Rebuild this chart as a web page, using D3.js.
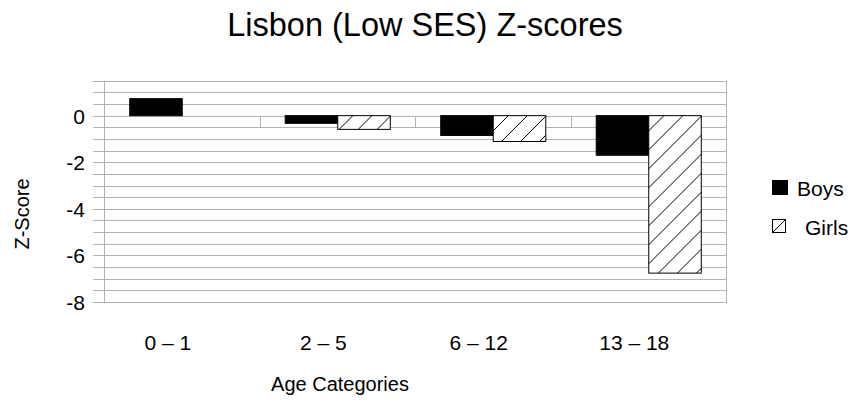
<!DOCTYPE html>
<html>
<head>
<meta charset="UTF-8">
<title>Lisbon (Low SES) Z-scores</title>
<style>
  body{ margin:0; background:#fff; }
  #canvas{ width:862px; height:406px; }
  text{ font-family:"Liberation Sans", Arial, sans-serif; fill:#000; }
  .grid line{ stroke:#b3b3b3; stroke-width:1; shape-rendering:crispEdges; }
</style>
<script src="https://cdn.jsdelivr.net/npm/d3@7/dist/d3.min.js"></script>
</head>
<body>
<div id="canvas"></div>
<script>
// data
var categories = ["0 – 1", "2 – 5", "6 – 12", "13 – 18"];
var seriesNames = ["Boys", "Girls"];
var boys = [0.73, -0.33, -0.85, -1.70];
var girls = [null, -0.59, -1.11, -6.76];
var yLabelTicks = [0, -2, -4, -6, -8];

// layout
var W = 862, H = 406;
var plot = {left: 104, right: 726, top: 80.7, bottom: 302};

var svg = d3.select("#canvas").append("svg")
  .attr("width", W).attr("height", H);

// pattern for girls
var defs = svg.append("defs");
var pat = defs.append("pattern")
  .attr("id", "hatch")
  .attr("patternUnits", "userSpaceOnUse")
  .attr("width", 19).attr("height", 19);
pat.append("rect").attr("width", 19).attr("height", 19).attr("fill", "#fff");
pat.append("path")
  .attr("d", "M-2,21 L21,-2 M-2,2 L2,-2 M17,21 L21,17")
  .attr("stroke", "#000").attr("stroke-width", 1);

// scales
var x0 = d3.scaleBand().domain(categories).range([plot.left, plot.right]).padding(0);
var x1 = d3.scaleBand().domain(seriesNames).range([0, x0.bandwidth()])
  .paddingInner(0).paddingOuter(0.48);
var y = d3.scaleLinear().domain([-8, 1.5]).range([plot.bottom, plot.top]);

// gridlines every 0.5 (extend left as tick marks)
var minor = d3.range(-8, 1.5001, 0.5);
svg.append("g").attr("class", "grid")
  .selectAll("line").data(minor).enter().append("line")
  .attr("x1", plot.left - 11).attr("x2", plot.right)
  .attr("y1", function(d){ return Math.round(y(d)) + 0.5; })
  .attr("y2", function(d){ return Math.round(y(d)) + 0.5; });

// y axis line and right wall
var g = svg.append("g").attr("class", "grid");
g.append("line")
  .attr("x1", plot.left + 0.5).attr("x2", plot.left + 0.5)
  .attr("y1", Math.round(y(1.5))).attr("y2", Math.round(y(-8)) + 1);
g.append("line")
  .attr("x1", plot.right + 0.5).attr("x2", plot.right + 0.5)
  .attr("y1", Math.round(y(1.5))).attr("y2", Math.round(y(-8)) + 1);

// category ticks on zero line
var bounds = categories.slice(1).map(function(c){ return x0(c); });
g.selectAll(".ctick").data(bounds).enter().append("line")
  .attr("x1", function(d){ return Math.round(d) + 0.5; })
  .attr("x2", function(d){ return Math.round(d) + 0.5; })
  .attr("y1", Math.round(y(0))).attr("y2", Math.round(y(0)) + 12);

// y tick labels
svg.append("g").selectAll("text").data(yLabelTicks).enter().append("text")
  .attr("x", 85).attr("y", function(d){ return y(d) + 8; })
  .attr("text-anchor", "end")
  .style("font-size", "21px")
  .text(function(d){ return d; });

// bars
var rows = categories.map(function(c, i){
  return {cat: c, values: [{s: "Boys", v: boys[i]}, {s: "Girls", v: girls[i]}]};
});
var grp = svg.append("g").selectAll("g").data(rows).enter().append("g")
  .attr("transform", function(d){ return "translate(" + x0(d.cat) + ",0)"; });
grp.selectAll("rect")
  .data(function(d){ return d.values.filter(function(e){ return e.v !== null; }); })
  .enter().append("rect")
  .attr("x", function(d){ return x1(d.s) + 0.5; })
  .attr("width", x1.bandwidth())
  .attr("y", function(d){ return Math.min(y(d.v), y(0)); })
  .attr("height", function(d){ return Math.abs(y(d.v) - y(0)); })
  .attr("fill", function(d){ return d.s === "Boys" ? "#000" : "url(#hatch)"; })
  .attr("stroke", "#000").attr("stroke-width", 1);

// x tick labels
svg.append("g").selectAll("text").data(categories).enter().append("text")
  .attr("x", function(d){ return x0(d) + x0.bandwidth() / 2 - 14; })
  .attr("y", 350)
  .attr("text-anchor", "middle")
  .style("font-size", "21px")
  .text(function(d){ return d; });

// titles
svg.append("text").attr("x", 425).attr("y", 36)
  .attr("text-anchor", "middle").style("font-size", "32.5px")
  .text("Lisbon (Low SES) Z-scores");
svg.append("text").attr("x", 340).attr("y", 391)
  .attr("text-anchor", "middle").style("font-size", "20px")
  .text("Age Categories");
svg.append("text")
  .attr("transform", "translate(29,214) rotate(-90)")
  .attr("text-anchor", "middle").style("font-size", "20px")
  .text("Z-Score");

// legend
var leg = svg.append("g");
leg.append("rect").attr("x", 772).attr("y", 180).attr("width", 16).attr("height", 15)
  .attr("fill", "#000");
leg.append("text").attr("x", 797).attr("y", 196).style("font-size", "21px").text(seriesNames[0]);
leg.append("rect").attr("x", 772.5).attr("y", 219.5).attr("width", 13).attr("height", 13)
  .attr("fill", "#fff").attr("stroke", "#000").attr("stroke-width", 1);
leg.append("line").attr("x1", 772.5).attr("y1", 232.5).attr("x2", 785.5).attr("y2", 219.5)
  .attr("stroke", "#000").attr("stroke-width", 1);
leg.append("text").attr("x", 805).attr("y", 235).style("font-size", "21px").text(seriesNames[1]);
</script>
</body>
</html>
